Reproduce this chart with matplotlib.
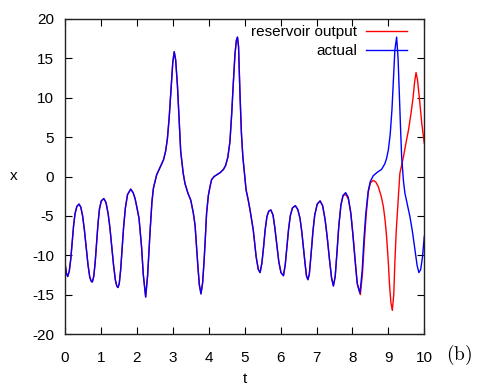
import matplotlib
matplotlib.use("Agg")
import matplotlib.pyplot as plt

plt.rcParams['font.family'] = ['Liberation Sans', 'DejaVu Sans']
plt.rcParams['axes.unicode_minus'] = False
plt.rcParams['mathtext.fontset'] = 'cm'

# shared trajectory (both series coincide)
t_common = [0.000, 0.040, 0.075, 0.120, 0.160, 0.200, 0.240, 0.280, 0.330, 0.390,
            0.440, 0.490, 0.540, 0.590, 0.640, 0.690, 0.730, 0.760, 0.800, 0.840,
            0.880, 0.920, 0.960, 1.010, 1.080, 1.140, 1.200, 1.250, 1.300, 1.350,
            1.400, 1.440, 1.475, 1.510, 1.550, 1.590, 1.630, 1.680, 1.740, 1.830,
            1.900, 1.950, 2.000, 2.060, 2.130, 2.180, 2.245, 2.300, 2.370, 2.420,
            2.460, 2.550, 2.650, 2.740, 2.800, 2.850, 2.900, 2.950, 3.000, 3.040,
            3.080, 3.130, 3.180, 3.220, 3.290, 3.340, 3.420, 3.500, 3.570, 3.620,
            3.660, 3.700, 3.740, 3.785, 3.830, 3.870, 3.900, 3.940, 3.990, 4.040,
            4.080, 4.150, 4.220, 4.320, 4.410, 4.470, 4.530, 4.590, 4.640, 4.680,
            4.730, 4.770, 4.800, 4.830, 4.870, 4.910, 4.950, 5.040, 5.100, 5.150, 5.200,
            5.240, 5.280, 5.320, 5.380, 5.430, 5.480, 5.530, 5.570, 5.620, 5.670,
            5.730, 5.790, 5.840, 5.890, 5.950, 6.010, 6.080, 6.130, 6.180, 6.220,
            6.270, 6.330, 6.410, 6.480, 6.540, 6.590, 6.630, 6.680, 6.720, 6.760,
            6.800, 6.850, 6.900, 6.950, 7.020, 7.100, 7.170, 7.240, 7.300, 7.360,
            7.420, 7.470, 7.520, 7.570, 7.620, 7.680, 7.740]
x_common = [-11.0, -12.3, -12.7, -12.0, -10.5, -8.3, -6.2, -4.7, -3.8, -3.5,
            -3.9, -5.0, -6.8, -9.0, -11.2, -12.8, -13.3, -13.4, -12.7, -10.9,
            -8.4, -5.9, -4.1, -3.1, -2.8, -3.3, -4.7, -6.5, -8.8, -11.2,
            -13.1, -13.9, -14.1, -13.6, -11.8, -9.2, -6.5, -4.0, -2.3, -1.6,
            -2.1, -2.8, -3.9, -5.3, -8.9, -12.5, -15.3, -12.5, -6.8, -3.2,
            -1.5, 0.2, 1.2, 2.1, 3.2, 4.8, 7.5, 11.0, 14.5, 15.85,
            14.8, 11.5, 7.0, 3.2, 0.4, -0.9, -2.1, -3.0, -4.6, -6.2,
            -8.9, -11.5, -13.8, -14.9, -13.5, -10.8, -8.3, -4.7, -2.4, -1.2,
            -0.4, 0.0, 0.2, 0.5, 0.9, 1.4, 2.4, 4.4, 8.0, 11.5,
            15.5, 17.3, 17.7, 16.5, 10.5, 5.5, 2.5, -1.7, -3.0, -4.25, -5.7,
            -6.8, -8.5, -10.2, -11.8, -12.2, -11.0, -8.8, -6.8, -5.1, -4.4,
            -4.25, -4.9, -6.5, -8.5, -10.8, -12.2, -12.6, -11.2, -8.8, -6.8,
            -5.0, -4.0, -3.7, -4.2, -5.3, -7.0, -8.8, -11.0, -12.6, -13.1,
            -12.4, -9.8, -7.0, -4.9, -3.5, -3.1, -3.7, -5.5, -7.8, -10.5,
            -12.9, -13.9, -12.7, -9.6, -6.3, -3.6, -2.4]

# diverging part: actual trajectory
t_actual_tail = [7.810, 7.880, 7.950, 8.010, 8.070, 8.130, 8.210, 8.270, 8.320, 8.370,
                 8.440, 8.500, 8.580, 8.680, 8.810, 8.900, 8.950, 9.000, 9.050, 9.100,
                 9.140, 9.180, 9.230, 9.270, 9.300, 9.340, 9.370, 9.420, 9.460, 9.530,
                 9.600, 9.670, 9.740, 9.800, 9.850, 9.900, 9.950, 10.00]
x_actual_tail = [-2.05, -2.6, -4.5, -7.3, -10.5, -13.5, -14.8, -12.0, -8.0, -4.8,
                 -1.8, -0.6, 0.1, 0.5, 0.9, 1.6, 2.3, 3.4, 5.3, 8.5,
                 12.3, 16.0, 17.7, 15.0, 11.0, 6.0, 2.5, -0.6, -2.1, -3.6,
                 -5.1, -7.0, -9.3, -11.3, -12.2, -11.8, -10.2, -7.6]

# diverging part: reservoir output
t_res_tail = [7.820, 7.890, 7.960, 8.020, 8.080, 8.140, 8.220, 8.280, 8.330, 8.380,
              8.440, 8.500, 8.580, 8.650, 8.720, 8.800, 8.860, 8.910, 8.950, 9.000,
              9.030, 9.070, 9.110, 9.150, 9.180, 9.220, 9.250, 9.320, 9.420, 9.500,
              9.560, 9.630, 9.690, 9.730, 9.770, 9.810, 9.860, 9.930, 10.00]
x_res_tail = [-2.3, -2.9, -4.8, -7.6, -10.8, -13.8, -15.0, -12.3, -8.4, -5.0,
              -2.0, -0.8, -0.5, -0.7, -1.3, -2.5, -3.8, -5.6, -7.6, -11.0,
              -13.6, -16.0, -17.0, -15.0, -11.0, -6.8, -4.7, 0.4, 2.5, 4.5,
              5.9, 8.0, 10.1, 12.0, 13.2, 12.3, 10.1, 6.75, 4.2]

x_ticks = [0, 1, 2, 3, 4, 5, 6, 7, 8, 9, 10]
y_ticks = [-20, -15, -10, -5, 0, 5, 10, 15, 20]

t_res = t_common + t_res_tail
x_res = x_common + x_res_tail
t_act = t_common + t_actual_tail
x_act = x_common + x_actual_tail

fig = plt.figure(figsize=(4.8, 3.9), dpi=100)
ax = fig.add_axes([65/480, 1 - 334/390, (424.3 - 65)/480, (334 - 19)/390])

ax.plot(t_res, x_res, color='#ff0000', lw=1.0, label='reservoir output')
ax.plot(t_act, x_act, color='#0000ff', lw=1.0, label='actual')

ax.set_xlim(0, 10)
ax.set_ylim(-20, 20)
ax.set_xticks(x_ticks)
ax.set_yticks(y_ticks)
ax.tick_params(direction='in', top=True, right=True, length=5, width=0.8,
               labelsize=11)
ax.tick_params(axis='x', pad=12)
ax.tick_params(axis='y', pad=8)
for s in ax.spines.values():
    s.set_linewidth(1.0)
    s.set_color('#222222')

ax.set_xlabel('t', fontsize=11, labelpad=5)
ax.set_ylabel('x', fontsize=11, rotation=0, labelpad=13, va='center')

leg = ax.legend(loc='upper right', bbox_to_anchor=(407/480, 1 - 25/390),
                bbox_transform=fig.transFigure, frameon=False, markerfirst=False,
                fontsize=11, handlelength=2.7, handletextpad=0.55,
                labelspacing=0.35, borderpad=0, borderaxespad=0)
for txt in leg.get_texts():
    txt.set_ha('right')
leg._legend_box.align = 'right'

fig.text(459/480, 1 - 355/390, r'$\mathrm{(b)}$', fontsize=14,
         ha='center', va='center')

fig.savefig('out.png', dpi=100)
